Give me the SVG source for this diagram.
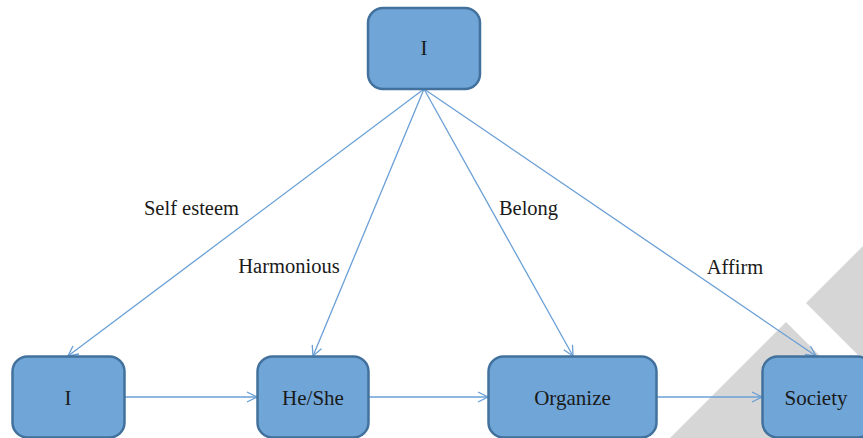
<svg xmlns="http://www.w3.org/2000/svg" width="863" height="438" viewBox="0 0 863 438">
<style>
.bg{fill:#d6d6d6;stroke:none}
.node rect{fill:#70a5d7;stroke:#41719c;stroke-width:2.5}
.node text{font-family:"Liberation Serif","Times New Roman",serif;font-size:21px;fill:#1a1a1a;text-anchor:middle}
.edge{stroke:#6a9fd6;stroke-width:1.3;fill:none}
.lbl{font-family:"Liberation Serif","Times New Roman",serif;font-size:20.5px;fill:#1a1a1a;text-anchor:middle}
</style>
<defs>
<marker id="arr" viewBox="0 0 12 12" refX="11" refY="6" markerWidth="12" markerHeight="12" markerUnits="userSpaceOnUse" orient="auto">
<path d="M1,1 L11,6 L1,11" fill="none" stroke="#6a9fd6" stroke-width="1.3"/>
</marker>
</defs>
<rect width="863" height="438" fill="#ffffff"/>
<g id="background">
<polygon class="bg" points="786,322 670,438 863,438 863,399"/>
<polygon class="bg" points="806,303 863,246 863,360"/>
</g>
<g id="connectors">
<line class="edge" x1="424" y1="89" x2="68" y2="356" marker-end="url(#arr)"/>
<line class="edge" x1="424" y1="89" x2="313" y2="356" marker-end="url(#arr)"/>
<line class="edge" x1="424" y1="89" x2="573" y2="356" marker-end="url(#arr)"/>
<line class="edge" x1="424" y1="89" x2="816" y2="356" marker-end="url(#arr)"/>
<line class="edge" x1="125" y1="397" x2="257" y2="397" marker-end="url(#arr)"/>
<line class="edge" x1="369" y1="397" x2="488" y2="397" marker-end="url(#arr)"/>
<line class="edge" x1="657" y1="397" x2="762" y2="397" marker-end="url(#arr)"/>
<text class="lbl" x="191.5" y="215">Self esteem</text>
<text class="lbl" x="289" y="273">Harmonious</text>
<text class="lbl" x="528.5" y="215">Belong</text>
<text class="lbl" x="735" y="274">Affirm</text>
</g>
<g id="node-top" class="node">
<rect x="368" y="8" width="112" height="81" rx="15"/>
<text x="424" y="55">I</text>
</g>
<g id="node-i" class="node">
<rect x="12.5" y="356.5" width="112" height="81" rx="15"/>
<text x="68" y="405">I</text>
</g>
<g id="node-heshe" class="node">
<rect x="257.5" y="356.5" width="111" height="81" rx="15"/>
<text x="313" y="405">He/She</text>
</g>
<g id="node-organize" class="node">
<rect x="488.5" y="356.5" width="168" height="81" rx="15"/>
<text x="572.5" y="405">Organize</text>
</g>
<g id="node-society" class="node">
<rect x="762.5" y="356.5" width="110" height="81" rx="15"/>
<text x="816" y="405">Society</text>
</g>
</svg>
